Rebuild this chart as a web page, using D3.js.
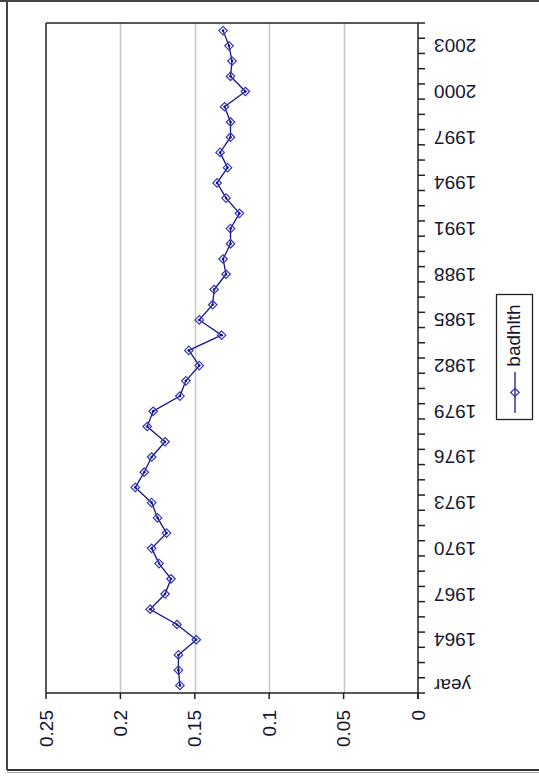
<!DOCTYPE html>
<html>
<head>
<meta charset="utf-8">
<script src="https://cdn.jsdelivr.net/npm/d3@7"></script>
<style>
  html, body { margin: 0; padding: 0; background: #fff; }
  svg { display: block; font-family: "Liberation Sans", Arial, sans-serif; }
</style>
</head>
<body>
<svg id="chart" width="539" height="780"></svg>
<script>
// Category labels as they come from the sheet (header cell first, then the years)
const categories = ["year"].concat(d3.range(1962, 2005).map(String));

// badhlth share per category
const badhlth = [
  0.160, 0.161, 0.161, 0.149, 0.162, 0.180, 0.170, 0.166, 0.174, 0.179,
  0.169, 0.175, 0.179, 0.190, 0.184, 0.179, 0.170, 0.182, 0.178, 0.160,
  0.156, 0.147, 0.154, 0.132, 0.147, 0.138, 0.137, 0.129, 0.131, 0.126,
  0.126, 0.120, 0.129, 0.135, 0.128, 0.133, 0.126, 0.126, 0.130, 0.116,
  0.126, 0.125, 0.127, 0.131
];

const valueTicks = [0, 0.05, 0.1, 0.15, 0.2, 0.25];
const valueTickLabels = ["0", "0.05", "0.1", "0.15", "0.2", "0.25"];
const seriesName = "badhlth";

const svg = d3.select("#chart");

// frame geometry (chart is laid out turned on its side)
const plot = { left: 46, right: 418, top: 23, bottom: 693 };

// outer chart frame
svg.append("line").attr("x1", 0).attr("x2", 539).attr("y1", 1).attr("y2", 1)
  .attr("stroke", "#444").attr("stroke-width", 2);
svg.append("line").attr("x1", 7).attr("x2", 7).attr("y1", 1).attr("y2", 770)
  .attr("stroke", "#444").attr("stroke-width", 2);
svg.append("line").attr("x1", 7).attr("x2", 539).attr("y1", 770).attr("y2", 770)
  .attr("stroke", "#333").attr("stroke-width", 2);
svg.append("line").attr("x1", 7).attr("x2", 539).attr("y1", 772.5).attr("y2", 772.5)
  .attr("stroke", "#aaa").attr("stroke-width", 1);

// value scale runs right-to-left, categories bottom-to-top
const x = d3.scaleLinear().domain([0, 0.25]).range([plot.right, plot.left]);
const y = d3.scaleBand().domain(categories).range([plot.bottom, plot.top]).paddingInner(0).paddingOuter(0);
const yc = c => y(c) + y.bandwidth() / 2;

// gridlines
svg.append("g").selectAll("line")
  .data(valueTicks.filter(v => v > 0 && v < 0.25))
  .join("line")
  .attr("x1", d => Math.round(x(d)) + 0.5).attr("x2", d => Math.round(x(d)) + 0.5)
  .attr("y1", plot.top).attr("y2", plot.bottom)
  .attr("stroke", "#c8c8c8").attr("stroke-width", 1.5);

// plot border: left and top
svg.append("line").attr("x1", plot.left).attr("x2", plot.left)
  .attr("y1", plot.top).attr("y2", plot.bottom).attr("stroke", "#222").attr("stroke-width", 1.5);
svg.append("line").attr("x1", plot.left).attr("x2", plot.right)
  .attr("y1", plot.top).attr("y2", plot.top).attr("stroke", "#222").attr("stroke-width", 1.5);

// value axis along the bottom
svg.append("line").attr("x1", plot.left).attr("x2", plot.right)
  .attr("y1", plot.bottom).attr("y2", plot.bottom).attr("stroke", "#222").attr("stroke-width", 1.5);
svg.append("g").selectAll("line")
  .data(valueTicks).join("line")
  .attr("x1", d => x(d)).attr("x2", d => x(d))
  .attr("y1", plot.bottom).attr("y2", plot.bottom + 6)
  .attr("stroke", "#222").attr("stroke-width", 1.5);
svg.append("g").selectAll("text")
  .data(valueTicks).join("text")
  .attr("transform", d => `translate(${x(d)},${plot.bottom + 17}) rotate(-90)`)
  .attr("text-anchor", "end")
  .attr("dominant-baseline", "central")
  .attr("font-size", 19)
  .attr("fill", "#151530")
  .text((d, i) => valueTickLabels[i]);

// category axis along the right, ticks between categories
svg.append("line").attr("x1", plot.right).attr("x2", plot.right)
  .attr("y1", plot.top).attr("y2", plot.bottom + 6).attr("stroke", "#222").attr("stroke-width", 1.5);
svg.append("g").selectAll("line")
  .data(categories.map(c => y(c) + y.bandwidth()).concat([plot.top]))
  .join("line")
  .attr("x1", plot.right).attr("x2", plot.right + 7)
  .attr("y1", d => d).attr("y2", d => d)
  .attr("stroke", "#222").attr("stroke-width", 1.5);
svg.append("g").selectAll("text")
  .data(categories.filter((c, i) => i % 3 === 0))
  .join("text")
  .attr("transform", d => `translate(${plot.right + 16},${yc(d)}) rotate(180)`)
  .attr("text-anchor", "end")
  .attr("dominant-baseline", "central")
  .attr("font-size", 19)
  .attr("fill", "#151530")
  .text(d => d);

// series line
const pts = categories.map((c, i) => ({ c, v: badhlth[i] }));
svg.append("path")
  .datum(pts)
  .attr("fill", "none")
  .attr("stroke", "#14148c")
  .attr("stroke-width", 1.3)
  .attr("d", d3.line().x(d => x(d.v)).y(d => yc(d.c)));

// hollow diamond markers
const diamond = d3.symbol().type(d3.symbolDiamond2).size(46);
svg.append("g").selectAll("path")
  .data(pts).join("path")
  .attr("transform", d => `translate(${x(d.v)},${yc(d.c)})`)
  .attr("d", diamond)
  .attr("fill", "none")
  .attr("stroke", "#3535b5")
  .attr("stroke-width", 1.2);
svg.append("g").selectAll("circle")
  .data(pts).join("circle")
  .attr("cx", d => x(d.v)).attr("cy", d => yc(d.c)).attr("r", 1.3)
  .attr("fill", "#10107a");

// legend
const lg = svg.append("g");
lg.append("rect").attr("x", 496.5).attr("y", 294.5).attr("width", 36).attr("height", 125)
  .attr("fill", "#fff").attr("stroke", "#222").attr("stroke-width", 1.3);
lg.append("line").attr("x1", 515).attr("x2", 515).attr("y1", 372).attr("y2", 413)
  .attr("stroke", "#14148c").attr("stroke-width", 1.3);
lg.append("path").attr("transform", "translate(515,392.5)").attr("d", diamond)
  .attr("fill", "none").attr("stroke", "#3535b5").attr("stroke-width", 1.2);
lg.append("text")
  .attr("transform", "translate(513,335.5) rotate(-90)")
  .attr("text-anchor", "middle")
  .attr("dominant-baseline", "central")
  .attr("font-size", 19)
  .attr("fill", "#151530")
  .text(seriesName);
</script>
</body>
</html>
